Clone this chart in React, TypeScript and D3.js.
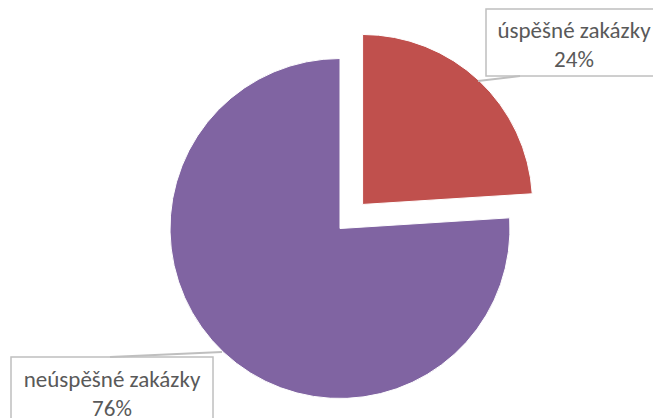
import React from "react";
import * as d3 from "d3";

const categories = ["úspěšné zakázky", "neúspěšné zakázky"];
const values = [24, 76];
const colors = ["#C0504D", "#8064A2"];
const explode = [33, 0];

const W = 653, H = 418;
const cx = 340, cy = 228.5, R = 170;

// label boxes (layout)
const boxes = [
  { x: 486, y: 9, w: 176, h: 67, tx: 574, l1: 38, l2: 67, leader: [[478, 81], [520, 76]] },
  { x: 11, y: 357, w: 202, h: 80, tx: 112, l1: 387, l2: 416, leader: [[222, 352], [110, 357]] },
];

export default function App() {
  const total = d3.sum(values);
  const pie = d3.pie<number>().sort(null).startAngle(0).endAngle(2 * Math.PI);
  const arcs = pie(values);
  const arc = d3.arc<d3.PieArcDatum<number>>().innerRadius(0).outerRadius(R);
  return (
    <svg width={W} height={H} style={{ position: "absolute", left: 0, top: 0, fontFamily: "Carlito, 'Open Sans', 'Liberation Sans', sans-serif" }}>
      <rect width={W} height={H} fill="#fff" />
      {arcs.map((a, i) => {
        const mid = (a.startAngle + a.endAngle) / 2;
        const dx = Math.sin(mid) * explode[i];
        const dy = -Math.cos(mid) * explode[i];
        return (
          <path key={i} d={arc(a) || ""} transform={`translate(${cx + dx},${cy + dy})`} fill={colors[i]} stroke="#fff" strokeWidth={1} />
        );
      })}
      {boxes.map((b, i) => (
        <g key={i}>
          <rect x={b.x} y={b.y} width={b.w} height={b.h} fill="#fff" stroke="#BFBFBF" strokeWidth={1.5} />
          <line x1={b.leader[0][0]} y1={b.leader[0][1]} x2={b.leader[1][0]} y2={b.leader[1][1]} stroke="#BFBFBF" strokeWidth={2} />
          <text x={b.tx} y={b.l1} textAnchor="middle" fontSize={23} fill="#595959">{categories[i]}</text>
          <text x={b.tx} y={b.l2} textAnchor="middle" fontSize={23} fill="#595959">{`${Math.round((values[i] / total) * 100)}%`}</text>
        </g>
      ))}
    </svg>
  );
}
